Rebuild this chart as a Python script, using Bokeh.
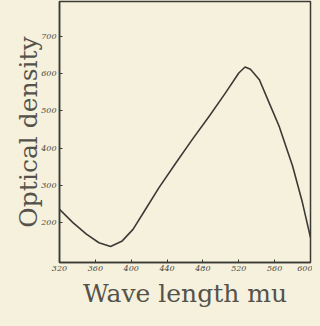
from bokeh.plotting import figure
from bokeh.embed import file_html
from bokeh.resources import INLINE
from bokeh.models import FixedTicker, GlobalInlineStyleSheet, Title

wavelength = [320, 335, 350, 364, 377, 390, 402, 416, 431, 450, 468, 487, 505, 520, 527, 533, 543, 554, 565, 580, 591, 600]
density = [236, 200, 169, 146, 136, 151, 182, 236, 294, 361, 423, 486, 548, 602, 618, 612, 584, 521, 459, 352, 254, 160]
x_ticks = [320, 360, 400, 440, 480, 520, 560, 600]
y_ticks = [200, 300, 400, 500, 600, 700]
x_title = "Wave length mu"
y_title = "Optical density"

BG = "#f5f1dc"
INK = "#3b3a36"
TXT = "#55524c"

p = figure(width=312, height=318, x_range=(320, 600), y_range=(93, 794),
           output_backend="svg", toolbar_location=None,
           min_border_left=59, min_border_right=2, min_border_top=1, min_border_bottom=56)
p.background_fill_color = BG
p.border_fill_color = BG
p.outline_line_color = INK
p.outline_line_width = 1.5
p.grid.visible = False

p.line(wavelength, density, line_color=INK, line_width=1.6, line_join="round")

for ax in (p.xaxis[0], p.yaxis[0]):
    ax.axis_line_color = INK
    ax.axis_line_width = 1.5
    ax.major_tick_in = 3
    ax.major_tick_out = 0
    ax.minor_tick_line_color = None
    ax.major_tick_line_color = INK
    ax.major_label_text_font = "DejaVu Serif"
    ax.major_label_text_font_style = "italic"
    ax.major_label_text_font_size = "8px"
    ax.major_label_text_color = "#4a4740"
    ax.major_label_standoff = 3
    ax.axis_label_text_font = "DejaVu Serif"
    ax.axis_label_text_font_style = "normal"
    ax.axis_label_text_font_size = "25px"
    ax.axis_label_text_color = TXT

p.xaxis.ticker = FixedTicker(ticks=x_ticks)
p.yaxis.ticker = FixedTicker(ticks=y_ticks)
p.yaxis.axis_label = y_title
p.yaxis.axis_label_standoff = -5

xt = Title(text=x_title, align="center", text_font="DejaVu Serif",
           text_font_size="25px", text_font_style="normal", text_color=TXT,
           standoff=6, text_line_height=0.6, vertical_align="bottom")
p.add_layout(xt, "below")

p.stylesheets = [GlobalInlineStyleSheet(css="body{background:%s;}" % BG)]

open("out.html", "w").write(file_html(p, INLINE))
